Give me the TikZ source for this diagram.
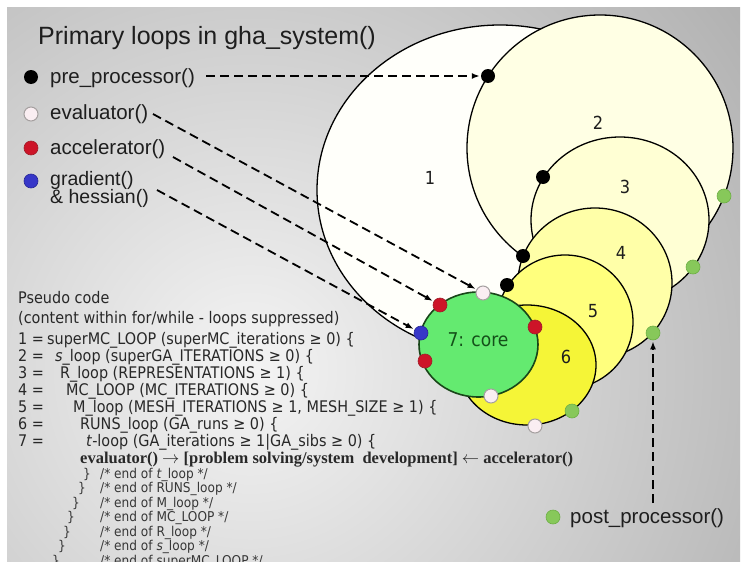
\documentclass[tikz,border=0pt]{standalone}
\usepackage{fontspec}
\setmainfont{Liberation Sans}
\newfontfamily\codefont[FakeStretch=0.9]{DejaVu Sans}
\newfontfamily\serifbold{Liberation Serif}
\usetikzlibrary{arrows.meta}
\definecolor{bgin}{RGB}{244,244,244}
\definecolor{bgout}{RGB}{128,128,128}
\definecolor{cone}{RGB}{255,255,250}
\definecolor{ctwo}{RGB}{255,255,228}
\definecolor{cthree}{RGB}{255,255,212}
\definecolor{cfour}{RGB}{255,255,168}
\definecolor{cfive}{RGB}{255,255,125}
\definecolor{csix}{RGB}{245,245,55}
\definecolor{cseven}{RGB}{100,234,112}
\definecolor{cedge}{RGB}{25,70,25}
\definecolor{coretxt}{RGB}{20,80,25}
\definecolor{dwhite}{RGB}{250,238,242}
\definecolor{dwhiteedge}{RGB}{165,160,160}
\definecolor{dred}{RGB}{205,20,40}
\definecolor{drededge}{RGB}{160,30,40}
\definecolor{dblue}{RGB}{55,55,200}
\definecolor{dblueedge}{RGB}{40,40,150}
\definecolor{dgreen}{RGB}{135,200,90}
\definecolor{dgreenedge}{RGB}{110,175,70}
\definecolor{txtcol}{RGB}{30,30,30}
\definecolor{codecol}{RGB}{40,40,40}
\definecolor{cmtcol}{RGB}{55,55,55}
\begin{document}
\begin{tikzpicture}[x=1pt,y=-1pt,
  loopc/.style={draw=black,line width=1.3pt},
  dotnode/.style={circle,inner sep=0pt,minimum size=14pt},
  bdot/.style={dotnode,fill=black},
  wdot/.style={dotnode,fill=dwhite,draw=dwhiteedge,line width=1pt},
  rdot/.style={dotnode,fill=dred,draw=drededge,line width=0.6pt},
  udot/.style={dotnode,fill=dblue,draw=dblueedge,line width=0.6pt},
  gdot/.style={dotnode,fill=dgreen,draw=dgreenedge,line width=0.6pt},
  num/.style={font=\codefont\fontsize{18}{20}\selectfont,text=txtcol,inner sep=0pt},
  titlestyle/.style={font=\fontsize{25}{28}\selectfont,text=txtcol,anchor=base west,inner sep=0pt},
  legtxt/.style={font=\fontsize{20.5}{24}\selectfont,text=txtcol,anchor=base west,inner sep=0pt},
  legsmall/.style={legtxt,font=\fontsize{19.5}{22}\selectfont},
  codetxt/.style={font=\codefont\fontsize{16}{18}\selectfont,text=codecol,anchor=base west,inner sep=0pt},
  cmttxt/.style={font=\codefont\fontsize{13.5}{15}\selectfont,text=cmtcol,anchor=base west,inner sep=0pt},
  boldtxt/.style={font=\serifbold\bfseries\fontsize{16.5}{18}\selectfont,text=codecol,anchor=base west,inner sep=0pt},
  dasharrow/.style={draw=black,line width=1.8pt,dash pattern=on 9pt off 5pt,-{Latex[length=8pt,width=6pt]},shorten >=1pt}
]
\useasboundingbox (0,0) rectangle (747,562);
% background
\fill[white] (0,0) rectangle (747,562);
\begin{scope}
  \clip (7,7) rectangle (740,562);
  \fill[bgout] (7,7) rectangle (740,562);
  \shade[inner color=bgin,outer color=bgout] (250,370) circle (1060pt);
\end{scope}
% loops
\filldraw[loopc,fill=cone]   (500,190) ellipse [x radius=183pt,y radius=165pt];
\filldraw[loopc,fill=ctwo]   (600,148) ellipse [x radius=133pt,y radius=133pt];
\filldraw[loopc,fill=cthree] (620,220) ellipse [x radius=89pt,y radius=83pt];
\filldraw[loopc,fill=cfour]  (595,283) ellipse [x radius=77pt,y radius=75pt];
\filldraw[loopc,fill=cfive]  (565,322) ellipse [x radius=68pt,y radius=67pt];
\filldraw[loopc,fill=csix]   (527,365) ellipse [x radius=69pt,y radius=60pt];
\filldraw[fill=cseven,draw=cedge,line width=1.6pt] (478.5,344.5) ellipse [x radius=59.5pt,y radius=52.5pt];
% loop labels
\node[num] (n1) at (430,178) {1};
\node[num] (n2) at (598,123) {2};
\node[num] (n3) at (625,187) {3};
\node[num] (n4) at (621,253) {4};
\node[num] (n5) at (593,311) {5};
\node[num] (n6) at (566,357) {6};
\node[font=\codefont\fontsize{19}{22}\selectfont,text=coretxt,inner sep=0pt] (core) at (478,340) {7: core};
% dots on loops
\node[bdot] (b1) at (488,76) {};
\node[bdot] (b2) at (543,177) {};
\node[bdot] (b3) at (523,256) {};
\node[bdot] (b4) at (507,285) {};
\node[gdot] (g1) at (724,196) {};
\node[gdot] (g2) at (693,267) {};
\node[gdot] (g3) at (653,333) {};
\node[gdot] (g4) at (572,411) {};
\node[wdot] (w1) at (483,293) {};
\node[wdot] (w2) at (491,396) {};
\node[wdot] (w3) at (535,426) {};
\node[rdot] (r1) at (440,305) {};
\node[rdot] (r2) at (535,327) {};
\node[rdot] (r3) at (425,361) {};
\node[udot] (u1) at (421,333) {};
% title and legend
\node[titlestyle] (ttl) at (38,44) {Primary loops in gha\_system()};
\node[bdot] (lb) at (31,77) {};
\node[legtxt] (lpre) at (50,83) {pre\_processor()};
\node[wdot] (lw) at (31,114) {};
\node[legtxt] (leval) at (50,119) {evaluator()};
\node[rdot] (lr) at (31,148) {};
\node[legtxt] (lacc) at (50,154) {accelerator()};
\node[udot] (lu) at (31,181) {};
\node[legsmall] (lgrad) at (50,185) {gradient()};
\node[legsmall] (lhes) at (50,203) {\& hessian()};
\node[gdot] (lg) at (553,517) {};
\node[legtxt] (lpost) at (570,523) {post\_processor()};
% connectors
\coordinate (spre) at (206,76);
\coordinate (seval) at (153,114);
\coordinate (sacc) at (173,157);
\coordinate (sgrad) at (157,190);
\coordinate (spost) at (653,503);
\draw[dasharrow] (spre) -- (b1);
\draw[dasharrow] (seval) -- (w1);
\draw[dasharrow] (sacc) -- (r1);
\draw[dasharrow] (sgrad) -- (u1);
\draw[dasharrow] (spost) -- (g3);
% pseudo code
\node[codetxt] (pc1) at (18,303) {Pseudo code};
\node[codetxt] (pc2) at (18,323) {(content within for/while - loops suppressed)};
\node[codetxt] (k1) at (18,344) {1 =};
\node[codetxt] (t1) at (47,344) {superMC\_LOOP (superMC\_iterations ≥ 0) \{};
\node[codetxt] (k2) at (18,361) {2 =};
\node[codetxt] (t2) at (55,361) {\textit{s}\_loop (superGA\_ITERATIONS ≥ 0) \{};
\node[codetxt] (k3) at (18,378) {3 =};
\node[codetxt] (t3) at (60,378) {R\_loop (REPRESENTATIONS ≥ 1) \{};
\node[codetxt] (k4) at (18,395) {4 =};
\node[codetxt] (t4) at (66,395) {MC\_LOOP (MC\_ITERATIONS ≥ 0) \{};
\node[codetxt] (k5) at (18,412) {5 =};
\node[codetxt] (t5) at (73,412) {M\_loop (MESH\_ITERATIONS ≥ 1, MESH\_SIZE ≥ 1) \{};
\node[codetxt] (k6) at (18,429) {6 =};
\node[codetxt] (t6) at (80,429) {RUNS\_loop (GA\_runs ≥ 0) \{};
\node[codetxt] (k7) at (18,446) {7 =};
\node[codetxt] (t7) at (86,446) {\textit{t}-loop (GA\_iterations ≥ 1|GA\_sibs ≥ 0) \{};
\node[boldtxt] (ev) at (80,463) {evaluator() \ensuremath{\rightarrow} [problem solving/system\ \ development] \ensuremath{\leftarrow} accelerator()};
\node[cmttxt] (e1) at (83,478) {\}};
\node[cmttxt] (m1) at (100,478) {/* end of \textit{t}\_loop */};
\node[cmttxt] (e2) at (78,492) {\}};
\node[cmttxt] (m2) at (100,492) {/* end of RUNS\_loop */};
\node[cmttxt] (e3) at (72,507) {\}};
\node[cmttxt] (m3) at (100,507) {/* end of M\_loop */};
\node[cmttxt] (e4) at (67,521) {\}};
\node[cmttxt] (m4) at (100,521) {/* end of MC\_LOOP */};
\node[cmttxt] (e5) at (63,536) {\}};
\node[cmttxt] (m5) at (100,536) {/* end of R\_loop */};
\node[cmttxt] (e6) at (58,550) {\}};
\node[cmttxt] (m6) at (100,550) {/* end of \textit{s}\_loop */};
\node[cmttxt] (e7) at (52,565) {\}};
\node[cmttxt] (m7) at (100,565) {/* end of superMC\_LOOP */};
\end{tikzpicture}
\end{document}
